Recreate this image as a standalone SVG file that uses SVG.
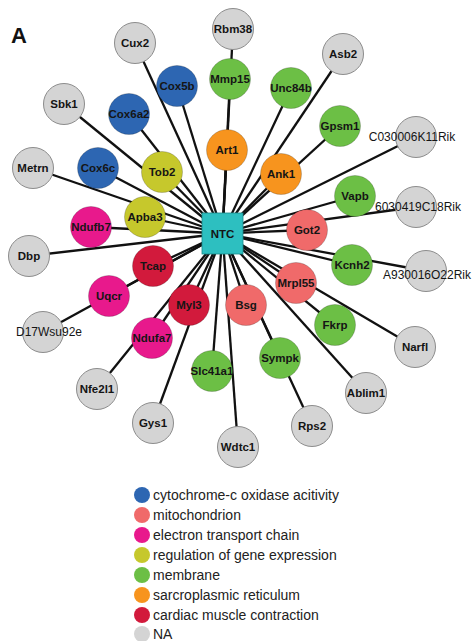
<svg xmlns="http://www.w3.org/2000/svg" width="473" height="641" viewBox="0 0 473 641">
<style>
.e{stroke:#111;stroke-width:2.3;fill:none}
.n circle{stroke:rgba(0,0,0,0.25);stroke-width:0.8}
.na circle{fill:#d4d4d4;stroke:#8c8c8c;stroke-width:1}
.t{font-family:"Liberation Sans",Arial,sans-serif;font-size:11.5px;font-weight:bold;fill:#151515;text-anchor:middle}
.tl{font-family:"Liberation Sans",Arial,sans-serif;font-size:12px;fill:#151515;text-anchor:middle}
.lg{font-family:"Liberation Sans",Arial,sans-serif;font-size:14px;fill:#222}
.blue{fill:#2d66b2}.mito{fill:#f06a6a}.etc{fill:#e8198c}.reg{fill:#c6c82c}.mem{fill:#6cbf45}.sr{fill:#f7941e}.card{fill:#d21a3c}.gray{fill:#d4d4d4}
</style>
<rect width="473" height="641" fill="#fff"/>
<text x="11" y="43" font-family="Liberation Sans,Arial,sans-serif" font-size="22" font-weight="bold" fill="#111">A</text>
<g id="connectors">
<line class="e" x1="222.5" y1="233.5" x2="233" y2="29"/>
<line class="e" x1="222.5" y1="233.5" x2="135" y2="43"/>
<line class="e" x1="222.5" y1="233.5" x2="343" y2="54"/>
<line class="e" x1="222.5" y1="233.5" x2="64" y2="104"/>
<line class="e" x1="222.5" y1="233.5" x2="416" y2="137"/>
<line class="e" x1="222.5" y1="233.5" x2="33" y2="168"/>
<line class="e" x1="222.5" y1="233.5" x2="416" y2="207"/>
<line class="e" x1="222.5" y1="233.5" x2="29" y2="256"/>
<line class="e" x1="222.5" y1="233.5" x2="426" y2="271"/>
<line class="e" x1="222.5" y1="233.5" x2="43" y2="332"/>
<line class="e" x1="222.5" y1="233.5" x2="415" y2="347"/>
<line class="e" x1="222.5" y1="233.5" x2="97" y2="389"/>
<line class="e" x1="222.5" y1="233.5" x2="366" y2="393"/>
<line class="e" x1="222.5" y1="233.5" x2="153" y2="423"/>
<line class="e" x1="222.5" y1="233.5" x2="312" y2="426"/>
<line class="e" x1="222.5" y1="233.5" x2="238" y2="447"/>
<line class="e" x1="222.5" y1="233.5" x2="177" y2="86"/>
<line class="e" x1="222.5" y1="233.5" x2="129" y2="114"/>
<line class="e" x1="222.5" y1="233.5" x2="98" y2="168"/>
<line class="e" x1="222.5" y1="233.5" x2="307" y2="230"/>
<line class="e" x1="222.5" y1="233.5" x2="296" y2="283"/>
<line class="e" x1="222.5" y1="233.5" x2="246" y2="305"/>
<line class="e" x1="222.5" y1="233.5" x2="91" y2="227"/>
<line class="e" x1="222.5" y1="233.5" x2="109" y2="296"/>
<line class="e" x1="222.5" y1="233.5" x2="152" y2="338"/>
<line class="e" x1="222.5" y1="233.5" x2="162" y2="172"/>
<line class="e" x1="222.5" y1="233.5" x2="145" y2="217"/>
<line class="e" x1="222.5" y1="233.5" x2="230" y2="79"/>
<line class="e" x1="222.5" y1="233.5" x2="291" y2="88"/>
<line class="e" x1="222.5" y1="233.5" x2="340" y2="126"/>
<line class="e" x1="222.5" y1="233.5" x2="355" y2="196"/>
<line class="e" x1="222.5" y1="233.5" x2="352" y2="265"/>
<line class="e" x1="222.5" y1="233.5" x2="335" y2="325"/>
<line class="e" x1="222.5" y1="233.5" x2="280" y2="358"/>
<line class="e" x1="222.5" y1="233.5" x2="212" y2="371"/>
<line class="e" x1="222.5" y1="233.5" x2="227" y2="150"/>
<line class="e" x1="222.5" y1="233.5" x2="281" y2="174"/>
<line class="e" x1="222.5" y1="233.5" x2="153" y2="266"/>
<line class="e" x1="222.5" y1="233.5" x2="189" y2="305"/>
</g>
<g id="NTC"><rect x="202" y="213" width="41" height="41" fill="#2dbfc0" stroke="#1b8a8b" stroke-width="0.8"/><text class="t" x="222.5" y="237.5">NTC</text></g>
<g id="Rbm38" class="na"><circle cx="233" cy="29" r="20.5"/><text class="t" x="233" y="33">Rbm38</text></g>
<g id="Cux2" class="na"><circle cx="135" cy="43" r="20.5"/><text class="t" x="135" y="47">Cux2</text></g>
<g id="Asb2" class="na"><circle cx="343" cy="54" r="20.5"/><text class="t" x="343" y="58">Asb2</text></g>
<g id="Sbk1" class="na"><circle cx="64" cy="104" r="20.5"/><text class="t" x="64" y="108">Sbk1</text></g>
<g id="C030006K11Rik" class="na"><circle cx="416" cy="137" r="20.5"/><text class="tl" x="412" y="141">C030006K11Rik</text></g>
<g id="Metrn" class="na"><circle cx="33" cy="168" r="20.5"/><text class="t" x="33" y="172">Metrn</text></g>
<g id="6030419C18Rik" class="na"><circle cx="416" cy="207" r="20.5"/><text class="tl" x="418" y="211">6030419C18Rik</text></g>
<g id="Dbp" class="na"><circle cx="29" cy="256" r="20.5"/><text class="t" x="29" y="260">Dbp</text></g>
<g id="A930016O22Rik" class="na"><circle cx="426" cy="271" r="20.5"/><text class="tl" x="427" y="279">A930016O22Rik</text></g>
<g id="D17Wsu92e" class="na"><circle cx="43" cy="332" r="20.5"/><text class="tl" x="49" y="336">D17Wsu92e</text></g>
<g id="Narfl" class="na"><circle cx="415" cy="347" r="20.5"/><text class="t" x="415" y="351">Narfl</text></g>
<g id="Nfe2l1" class="na"><circle cx="97" cy="389" r="20.5"/><text class="t" x="97" y="393">Nfe2l1</text></g>
<g id="Ablim1" class="na"><circle cx="366" cy="393" r="20.5"/><text class="t" x="366" y="397">Ablim1</text></g>
<g id="Gys1" class="na"><circle cx="153" cy="423" r="20.5"/><text class="t" x="153" y="427">Gys1</text></g>
<g id="Rps2" class="na"><circle cx="312" cy="426" r="20.5"/><text class="t" x="312" y="430">Rps2</text></g>
<g id="Wdtc1" class="na"><circle cx="238" cy="447" r="20.5"/><text class="t" x="238" y="451">Wdtc1</text></g>
<g id="Cox5b" class="n"><circle class="blue" cx="177" cy="86" r="20.5"/><text class="t" x="177" y="90">Cox5b</text></g>
<g id="Cox6a2" class="n"><circle class="blue" cx="129" cy="114" r="20.5"/><text class="t" x="129" y="118">Cox6a2</text></g>
<g id="Cox6c" class="n"><circle class="blue" cx="98" cy="168" r="20.5"/><text class="t" x="98" y="172">Cox6c</text></g>
<g id="Got2" class="n"><circle class="mito" cx="307" cy="230" r="20.5"/><text class="t" x="307" y="234">Got2</text></g>
<g id="Mrpl55" class="n"><circle class="mito" cx="296" cy="283" r="20.5"/><text class="t" x="296" y="287">Mrpl55</text></g>
<g id="Bsg" class="n"><circle class="mito" cx="246" cy="305" r="20.5"/><text class="t" x="246" y="309">Bsg</text></g>
<g id="Ndufb7" class="n"><circle class="etc" cx="91" cy="227" r="20.5"/><text class="t" x="91" y="231">Ndufb7</text></g>
<g id="Uqcr" class="n"><circle class="etc" cx="109" cy="296" r="20.5"/><text class="t" x="109" y="300">Uqcr</text></g>
<g id="Ndufa7" class="n"><circle class="etc" cx="152" cy="338" r="20.5"/><text class="t" x="152" y="342">Ndufa7</text></g>
<g id="Tob2" class="n"><circle class="reg" cx="162" cy="172" r="20.5"/><text class="t" x="162" y="176">Tob2</text></g>
<g id="Apba3" class="n"><circle class="reg" cx="145" cy="217" r="20.5"/><text class="t" x="145" y="221">Apba3</text></g>
<g id="Mmp15" class="n"><circle class="mem" cx="230" cy="79" r="20.5"/><text class="t" x="230" y="83">Mmp15</text></g>
<g id="Unc84b" class="n"><circle class="mem" cx="291" cy="88" r="20.5"/><text class="t" x="291" y="92">Unc84b</text></g>
<g id="Gpsm1" class="n"><circle class="mem" cx="340" cy="126" r="20.5"/><text class="t" x="340" y="130">Gpsm1</text></g>
<g id="Vapb" class="n"><circle class="mem" cx="355" cy="196" r="20.5"/><text class="t" x="355" y="200">Vapb</text></g>
<g id="Kcnh2" class="n"><circle class="mem" cx="352" cy="265" r="20.5"/><text class="t" x="352" y="269">Kcnh2</text></g>
<g id="Fkrp" class="n"><circle class="mem" cx="335" cy="325" r="20.5"/><text class="t" x="335" y="329">Fkrp</text></g>
<g id="Sympk" class="n"><circle class="mem" cx="280" cy="358" r="20.5"/><text class="t" x="280" y="362">Sympk</text></g>
<g id="Slc41a1" class="n"><circle class="mem" cx="212" cy="371" r="20.5"/><text class="t" x="212" y="375">Slc41a1</text></g>
<g id="Art1" class="n"><circle class="sr" cx="227" cy="150" r="20.5"/><text class="t" x="227" y="154">Art1</text></g>
<g id="Ank1" class="n"><circle class="sr" cx="281" cy="174" r="20.5"/><text class="t" x="281" y="178">Ank1</text></g>
<g id="Tcap" class="n"><circle class="card" cx="153" cy="266" r="20.5"/><text class="t" x="153" y="270">Tcap</text></g>
<g id="Myl3" class="n"><circle class="card" cx="189" cy="305" r="20.5"/><text class="t" x="189" y="309">Myl3</text></g>
<g id="legend">
<circle class="blue" cx="142" cy="495" r="8"/><text class="lg" x="153" y="500">cytochrome-c oxidase acitivity</text>
<circle class="mito" cx="142" cy="515" r="8"/><text class="lg" x="153" y="520">mitochondrion</text>
<circle class="etc" cx="142" cy="535" r="8"/><text class="lg" x="153" y="540">electron transport chain</text>
<circle class="reg" cx="142" cy="555" r="8"/><text class="lg" x="153" y="560">regulation of gene expression</text>
<circle class="mem" cx="142" cy="575" r="8"/><text class="lg" x="153" y="580">membrane</text>
<circle class="sr" cx="142" cy="595" r="8"/><text class="lg" x="153" y="600">sarcroplasmic reticulum</text>
<circle class="card" cx="142" cy="615" r="8"/><text class="lg" x="153" y="620">cardiac muscle contraction</text>
<circle class="gray" cx="142" cy="634" r="8"/><text class="lg" x="153" y="639">NA</text>
</g>
</svg>
